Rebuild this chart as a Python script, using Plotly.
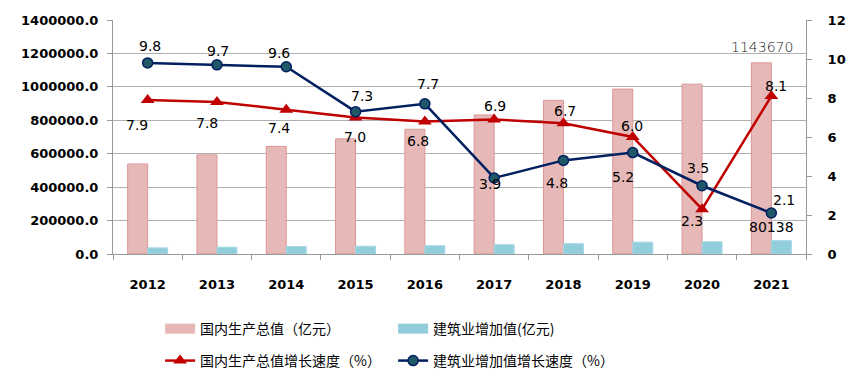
import plotly.graph_objects as go

years = ["2012", "2013", "2014", "2015", "2016", "2017", "2018", "2019", "2020", "2021"]
gdp = [538580, 592963, 643563, 688858, 746395, 832036, 919281, 986515, 1015986, 1143670]
construction = [36896, 40897, 44881, 46627, 49703, 55689, 61808, 70904, 72996, 80138]
gdp_growth = [7.9, 7.8, 7.4, 7.0, 6.8, 6.9, 6.7, 6.0, 2.3, 8.1]
con_growth = [9.8, 9.7, 9.6, 7.3, 7.7, 3.9, 4.8, 5.2, 3.5, 2.1]

names = ["国内生产总值（亿元）", "建筑业增加值(亿元)", "国内生产总值增长速度（%）", "建筑业增加值增长速度（%）"]

PINK = "#E6B9B8"
PINK_EDGE = "#D99694"
BLUE = "#92CDDC"
RED = "#C00000"
NAVY = "#002060"
TEAL = "#215868"

xi = list(range(len(years)))

# label offsets (px) for the growth data labels
gdp_off = [(-11, 25), (-10, 21), (-7, 18), (-1, 19), (-7, 20), (1, -13), (2, -12), (-1, -11), (-10, 12), (5, -10)]
con_off = [(2, -17), (1, -14), (-7, -14), (6, -16), (3, -20), (-4, 6), (-6, 23), (-10, 24), (-4, -18), (13, -13)]

fig = go.Figure()
fig.add_trace(go.Bar(x=xi, y=gdp, name=names[0], marker=dict(color=PINK, line=dict(color=PINK_EDGE, width=1)),
                     showlegend=False))
fig.add_trace(go.Bar(x=xi, y=construction, name=names[1], marker=dict(color=BLUE, line=dict(color="#A8D8E4", width=1)),
                     showlegend=False))
fig.add_trace(go.Scatter(x=xi, y=gdp_growth, yaxis="y2", mode="lines+markers", name=names[2],
                         line=dict(color=RED, width=2.5),
                         marker=dict(symbol="triangle-up", size=12, color=RED), legend="legend2"))
fig.add_trace(go.Scatter(x=xi, y=con_growth, yaxis="y2", mode="lines+markers", name=names[3],
                         line=dict(color=NAVY, width=2.5),
                         marker=dict(symbol="circle", size=10, color=TEAL, line=dict(color=NAVY, width=1.5)),
                         legend="legend2"))
# legend-only entries for bars (wide rectangles)
fig.add_trace(go.Scatter(x=[None], y=[None], mode="lines", name=names[0], line=dict(color=PINK, width=11), legend="legend"))
fig.add_trace(go.Scatter(x=[None], y=[None], mode="lines", name=names[1], line=dict(color=BLUE, width=11), legend="legend"))

ann = []
for i in xi:
    dx, dy = gdp_off[i]
    ann.append(dict(x=i, y=gdp_growth[i], yref="y2", xref="x", text=f"{gdp_growth[i]:.1f}", showarrow=False,
                    xshift=dx, yshift=-dy, font=dict(size=14, color="#000000", family="DejaVu Sans")))
    dx, dy = con_off[i]
    ann.append(dict(x=i, y=con_growth[i], yref="y2", xref="x", text=f"{con_growth[i]:.1f}", showarrow=False,
                    xshift=dx, yshift=-dy, font=dict(size=14, color="#000000", family="DejaVu Sans")))
ann.append(dict(x=xi[-1], y=gdp[-1], xref="x", yref="y", text=str(gdp[-1]), showarrow=False,
                xshift=-9, yshift=16, font=dict(size=14, color="#1a1a1a", family="DejaVu Sans", weight=300)))
ann.append(dict(x=xi[-1], y=construction[-1], xref="x", yref="y", text=str(construction[-1]), showarrow=False,
                xshift=0, yshift=14, font=dict(size=14, color="#000000", family="DejaVu Sans")))

tickfont = dict(family="DejaVu Sans", size=13, color="#000000", weight="bold")
legfont = dict(family="Noto Sans CJK SC", size=14, color="#000000")

# page body has an 8px margin, so the figure is sized to end at the window edge
fig.update_layout(
    width=854, height=379,
    margin=dict(l=105, r=56, t=12, b=132),
    paper_bgcolor="white", plot_bgcolor="white",
    barmode="group", bargap=0.423, bargroupgap=0,
    annotations=ann,
    xaxis=dict(range=[-0.5, len(years) - 0.5], tickmode="array", tickvals=xi, ticktext=years,
               showline=True, linecolor="#999999", linewidth=1, ticks="", tickangle=0, automargin=False,
               minor=dict(tick0=0.5, dtick=1, ticks="outside", ticklen=5, tickcolor="#999999", showgrid=False),
               tickfont=tickfont, ticklabelstandoff=18, showgrid=False, zeroline=False),
    yaxis=dict(range=[0, 1400000], dtick=200000, tickformat=".1f", showline=True, linecolor="#999999",
               ticks="outside", ticklen=5, tickcolor="#999999", gridcolor="#B0B0B0", gridwidth=1,
               tickfont=tickfont, ticklabelstandoff=6, zeroline=False, automargin=False),
    yaxis2=dict(range=[0, 12], dtick=2, overlaying="y", side="right", showline=True, linecolor="#999999",
                ticks="outside", ticklen=5, tickcolor="#999999", showgrid=False, zeroline=False,
                tickfont=tickfont, ticklabelstandoff=13, automargin=False),
    legend=dict(orientation="h", x=0.068, xanchor="left", y=-0.315, yanchor="middle",
                font=legfont, entrywidth=188, bgcolor="rgba(0,0,0,0)", traceorder="normal"),
    legend2=dict(orientation="h", x=0.068, xanchor="left", y=-0.451, yanchor="middle",
                 font=legfont, entrywidth=188, bgcolor="rgba(0,0,0,0)", traceorder="normal"),
)

fig.write_html("out.html")
